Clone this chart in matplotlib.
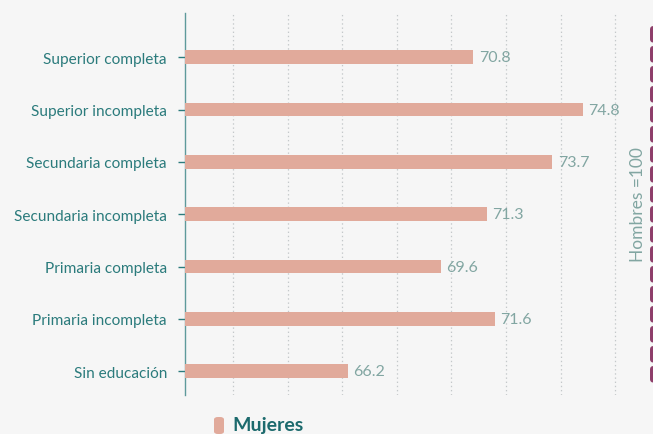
import matplotlib
matplotlib.use("Agg")
import matplotlib.pyplot as plt
from matplotlib.patches import FancyBboxPatch

categories = ["Sin educación", "Primaria incompleta", "Primaria completa",
              "Secundaria incompleta", "Secundaria completa",
              "Superior incompleta", "Superior completa"]
values = [66.2, 71.6, 69.6, 71.3, 73.7, 74.8, 70.8]
series_name = "Mujeres"
ref_label = "Hombres =100"
grid_ticks = [62, 64, 66, 68, 70, 72, 74, 76]

BG = "#f6f6f6"
BAR = "#e1aa9b"
TEAL = "#2b7b7c"
LABEL = "#82a6a2"
DARK = "#1c6a6d"
MAGENTA = "#8e3e6a"

plt.rcParams['font.family'] = ['Lato', 'DejaVu Sans']
plt.rcParams['lines.scale_dashes'] = False

fig = plt.figure(figsize=(6.53, 4.35), dpi=100, facecolor=BG)
ax = fig.add_axes([185/653, 1-396/435, (651-185)/653, 382/435], facecolor=BG)

XMIN = 60.24
XMAX = 60 + (651-178.5)/27.3
y = list(range(len(categories)))
ax.barh(y, [v - XMIN for v in values], left=XMIN, height=0.26, color=BAR, zorder=3)
for yi, v in zip(y, values):
    ax.text(v + 0.2, yi, f"{v:.1f}", va="center", ha="left", fontsize=11.5,
            color=LABEL, zorder=4)

ax.set_xlim(XMIN, XMAX)
ax.set_ylim(-0.455, 6.845)
ax.set_xticks(grid_ticks)
ax.tick_params(axis='x', length=0, labelbottom=False)
ax.grid(axis='x', linestyle=(0, (1, 2)), color="#c4c8ca", linewidth=0.9, zorder=0)
ax.set_yticks(y)
ax.set_yticklabels(categories, fontsize=11.1, color=TEAL)
ax.tick_params(axis='y', length=5, width=1, color=TEAL, pad=8)
for s in ['top', 'right', 'bottom']:
    ax.spines[s].set_visible(False)
ax.spines['left'].set_color("#5e9a9b")
ax.spines['left'].set_linewidth(1)

# reference dashed line (Hombres = 100) at the right edge
ax.plot([1.0045, 1.0045], [(396-30)/382, (396-384)/382], transform=ax.transAxes,
        clip_on=False, color=MAGENTA, linewidth=4.3, dash_capstyle='round',
        linestyle=(0, (7.6, 6.8)), zorder=5)
ax.text(0.973, 0.5, ref_label, transform=ax.transAxes, rotation=90,
        ha="center", va="center", fontsize=12.5, color=LABEL)

# legend
sw = FancyBboxPatch((214/653, 0), 10/653, 17/435, boxstyle="round,pad=0,rounding_size=0.006",
                    transform=fig.transFigure, facecolor=BAR, edgecolor='none')
fig.patches.append(sw)
fig.text(232/653, 1-426/435, series_name, fontsize=14, fontweight='bold',
         color=DARK, va="center", ha="left")

fig.savefig("out.png", dpi=100, facecolor=BG)
